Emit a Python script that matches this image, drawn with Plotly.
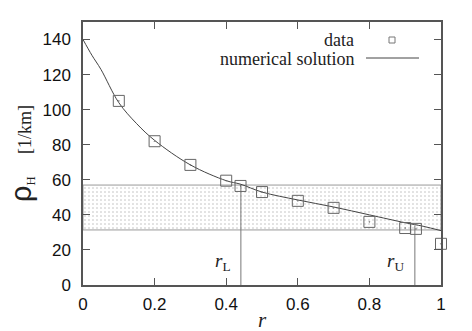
import plotly.graph_objects as go

# numerical solution
curve_r = [0, 0.025, 0.05, 0.1, 0.15, 0.2, 0.3, 0.4, 0.44, 0.5, 0.6, 0.7, 0.8, 0.9, 0.95, 1.0]
curve_rho = [140, 131, 123, 104, 92, 82.5, 68.5, 59.5, 57.5, 53, 48.5, 44.5, 40, 35.5, 33.5, 31]

# data points
data_r = [0.1, 0.2, 0.3, 0.4, 0.44, 0.5, 0.6, 0.7, 0.8, 0.9, 0.93, 1.0]
data_rho = [105, 82, 68.5, 59.5, 56.5, 53, 48, 44, 36, 32.5, 32, 23.5]

# shaded band and marker lines
band_lo, band_hi = 31.4, 57
r_L, rho_L = 0.441, 57.5
r_U, rho_U = 0.927, 34

x_ticks = [0, 0.2, 0.4, 0.6, 0.8, 1]
x_ticklabels = ["0", "0.2", "0.4", "0.6", "0.8", "1"]
y_ticks = [0, 20, 40, 60, 80, 100, 120, 140]

SERIF = "Liberation Serif, Times New Roman, Times, serif"
SANS = "Liberation Sans, Arial, sans-serif"
AX = "#555555"

fig = go.Figure()

# shaded band (sparse stipple)
fig.add_trace(go.Scatter(
    x=[0, 1, 1, 0, 0], y=[band_lo, band_lo, band_hi, band_hi, band_lo],
    mode="lines", fill="toself", fillcolor="rgba(255,255,255,0)",
    fillpattern=dict(shape=".", fgcolor="#777777", bgcolor="white", size=4, solidity=0.12),
    line=dict(color="#999999", width=1), hoverinfo="skip", showlegend=False))

# vertical marker lines
for rv, top in [(r_L, rho_L), (r_U, rho_U)]:
    fig.add_trace(go.Scatter(x=[rv, rv], y=[0, top], mode="lines",
                             line=dict(color="#777777", width=1), showlegend=False))

fig.add_trace(go.Scatter(x=curve_r, y=curve_rho, mode="lines", line_shape="spline",
                         line=dict(color="#444444", width=1), showlegend=False))

fig.add_trace(go.Scatter(x=data_r, y=data_rho, mode="markers", cliponaxis=False,
                         marker=dict(symbol="square-open-dot", size=11, color="#666666",
                                     line=dict(width=1, color="#666666")),
                         showlegend=False))

# page pixel -> paper coords
lx = lambda px: (px - 83) / 358
ly = lambda py: (285 - py) / 263

# legend drawn by hand (text right aligned, sample on the right)
fig.add_annotation(x=lx(356), y=ly(40), xref="paper", yref="paper", text="data",
                   showarrow=False, xanchor="right", yanchor="middle",
                   font=dict(family=SERIF, size=18, color="#222"))
fig.add_annotation(x=lx(356), y=ly(59), xref="paper", yref="paper", text="numerical solution",
                   showarrow=False, xanchor="right", yanchor="middle",
                   font=dict(family=SERIF, size=18, color="#222"))
fig.add_shape(type="line", xref="paper", yref="paper", x0=lx(366), x1=lx(419),
              y0=ly(58), y1=ly(58), line=dict(color="#444444", width=1))
fig.add_shape(type="rect", xref="paper", yref="paper", x0=lx(389), x1=lx(395),
              y0=ly(43), y1=ly(37), line=dict(color="#777777", width=1))

fig.add_annotation(x=0.39, y=13, text="<i>r</i><sub>L</sub>", showarrow=False,
                   font=dict(family=SERIF, size=19, color="#222"))
fig.add_annotation(x=0.874, y=13, text="<i>r</i><sub>U</sub>", showarrow=False,
                   font=dict(family=SERIF, size=19, color="#222"))

# axis titles
fig.add_annotation(x=lx(262), y=ly(320), xref="paper", yref="paper", text="<i>r</i>",
                   showarrow=False, xanchor="center", yanchor="middle",
                   font=dict(family=SERIF, size=21, color="#222"))
fig.add_annotation(x=lx(21), y=ly(153), xref="paper", yref="paper", textangle=-90,
                   xanchor="center", yanchor="middle",
                   text="<span style='font-family:Liberation Sans;font-size:29px'>ρ</span>"
                        "<sub>H</sub>&nbsp;&nbsp;&nbsp;&nbsp;&nbsp;[1/km]",
                   showarrow=False, font=dict(family=SERIF, size=18, color="#222"))

fig.update_layout(
    width=472, height=331,
    margin=dict(l=83, r=31, t=22, b=46),
    paper_bgcolor="white", plot_bgcolor="white",
    showlegend=False,
    font=dict(family=SANS, size=17, color="#111"),
    xaxis=dict(range=[0, 1], tickvals=x_ticks, ticktext=x_ticklabels, ticks="inside",
               ticklen=7, tickcolor=AX, showgrid=False, zeroline=False, showline=True,
               linecolor=AX, linewidth=1.5, mirror="ticks", ticklabelstandoff=3,
               automargin=False),
    yaxis=dict(range=[0, 150], tickvals=y_ticks, ticks="inside", ticklen=7, tickcolor=AX,
               showgrid=False, zeroline=False, showline=True, linecolor=AX, linewidth=1.5,
               mirror="ticks", ticklabelstandoff=7, automargin=False),
)

# drop the default body margin so the figure fills the window exactly
fig.write_html("out.html", config={"displayModeBar": False},
               post_script="document.body.style.margin='0px';")
